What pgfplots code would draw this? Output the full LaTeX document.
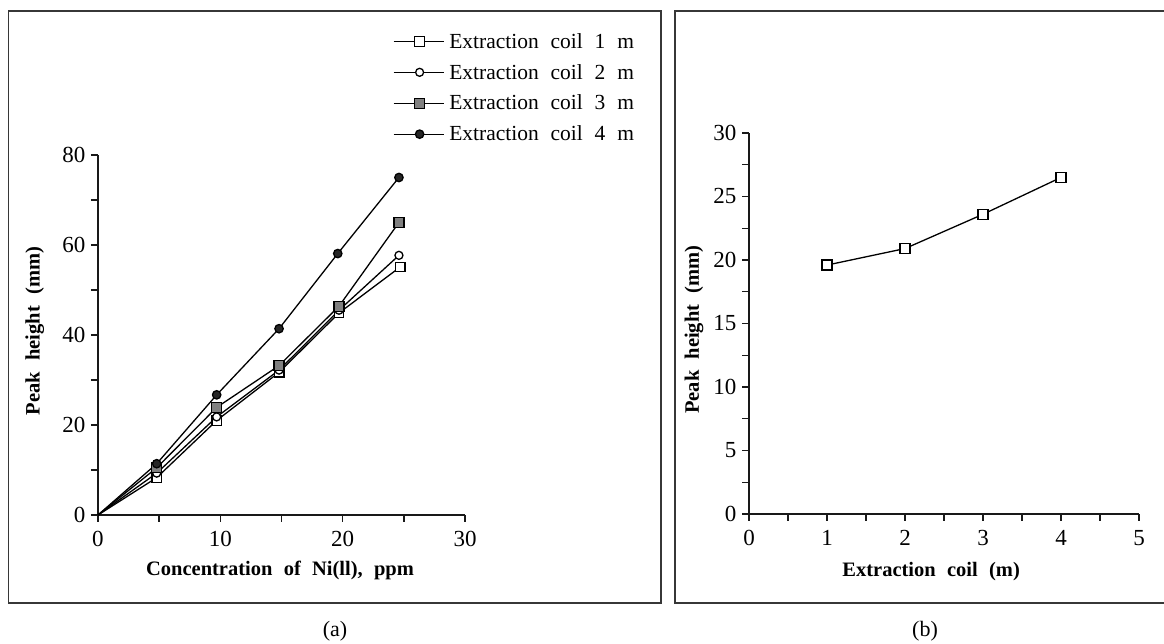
\documentclass[border=0pt]{standalone}
\usepackage{fontspec}
\setmainfont{Liberation Serif}
\usepackage{pgfplots}
\pgfplotsset{compat=1.18}

\definecolor{markgray}{RGB}{128,128,128}
\definecolor{framegray}{RGB}{55,55,55}

\newcommand{\ticksize}{\fontsize{23}{23}\selectfont}
\newcommand{\labsize}{\fontsize{20.5}{20.5}\selectfont\bfseries\spaceskip=0.55em\relax}
\newcommand{\legsize}{\fontsize{21.5}{21.5}\selectfont\spaceskip=0.55em\relax}

\pgfplotsset{
  panel/.style={
    scale only axis,
    anchor=south west,
    axis lines*=left,
    axis line style={-, line width=1.7pt, black!90},
    tick align=outside,
    major tick length=7pt,
    minor tick length=7pt,
    tick style={line width=1.4pt, black!90},
    minor tick num=1,
    tick label style={font=\ticksize},
    xticklabel style={yshift=-6pt},
    yticklabel style={xshift=-2pt},
    /pgf/number format/assume math mode=true,
    label style={font=\labsize},
    clip=false,
  },
  every axis plot/.append style={line width=1.3pt, black},
}

\begin{document}
\begin{tikzpicture}[x=1pt,y=1pt]
\path[use as bounding box] (0,0) rectangle (1164,644);

% frames round the two panels
\draw[framegray, line width=1.6pt] (8.5,41) rectangle (661,633);
\draw[framegray, line width=1.6pt] (675,41) rectangle (1185,633);

% (a) peak height against concentration
\begin{axis}[panel,
  at={(98pt,129pt)},
  width=367pt, height=360pt,
  xmin=0, xmax=30, ymin=0, ymax=80,
  xtick={0,10,20,30}, ytick={0,20,40,60,80},
  xlabel={Concentration of Ni(ll), ppm},
  ylabel={Peak height (mm)},
  xlabel style={at={(axis description cs:0.496,-0.153)}, anchor=center},
  ylabel style={at={(axis description cs:-0.172,0.511)}, anchor=center},
  legend style={at={(axis description cs:0.795,1.35)}, anchor=north west,
    draw=none, fill=none, font=\legsize, row sep=10.5pt,
    /tikz/every odd column/.append style={column sep=3pt}},
  legend cell align=left,
  legend image code/.code={\draw[#1, mark indices={2}]
    plot coordinates {(0pt,0pt) (26pt,0pt) (50pt,0pt)};},
]
\addplot[black, mark=square*, mark indices={2,3,4,5,6},
  mark options={fill=white, draw=black, line width=1.3pt}, mark size=4.8pt]
  coordinates {(0,0) (4.8,8.3) (9.7,21.0) (14.8,31.7) (19.7,44.9) (24.7,55.1)};
\addlegendentry{Extraction coil 1 m}
\addplot[black, mark=*, mark indices={2,3,4,5,6},
  mark options={fill=white, draw=black, line width=1.3pt}, mark size=4pt]
  coordinates {(0,0) (4.8,9.3) (9.7,21.8) (14.8,32.2) (19.7,45.5) (24.6,57.7)};
\addlegendentry{Extraction coil 2 m}
\addplot[black, mark=square*, mark indices={2,3,4,5,6},
  mark options={fill=markgray, draw=black, line width=1.3pt}, mark size=5pt]
  coordinates {(0,0) (4.8,10.5) (9.7,23.9) (14.8,33.2) (19.7,46.4) (24.6,65.0)};
\addlegendentry{Extraction coil 3 m}
\addplot[black, mark=*, mark indices={2,3,4,5,6},
  mark options={fill=black!85, draw=black}, mark size=4.2pt]
  coordinates {(0,0) (4.8,11.4) (9.7,26.7) (14.8,41.4) (19.6,58.1) (24.6,75.0)};
\addlegendentry{Extraction coil 4 m}
\end{axis}

% (b) peak height against coil length
\begin{axis}[panel,
  at={(749pt,130pt)},
  width=390pt, height=381pt,
  xmin=0, xmax=5, ymin=0, ymax=30,
  xtick={0,1,2,3,4,5}, ytick={0,5,10,15,20,25,30},
  xlabel={Extraction coil (m)},
  ylabel={Peak height (mm)},
  xlabel style={at={(axis description cs:0.467,-0.152)}, anchor=center},
  ylabel style={at={(axis description cs:-0.141,0.484)}, anchor=center},
]
\addplot[black, mark=square*,
  mark options={fill=white, draw=black, line width=1.3pt}, mark size=5pt]
  coordinates {(1,19.6) (2,20.9) (3,23.6) (4,26.5)};
\end{axis}

\node[font=\fontsize{22}{22}\selectfont] at (335,13) {(a)};
\node[font=\fontsize{22}{22}\selectfont] at (925,13) {(b)};
\end{tikzpicture}
\end{document}
